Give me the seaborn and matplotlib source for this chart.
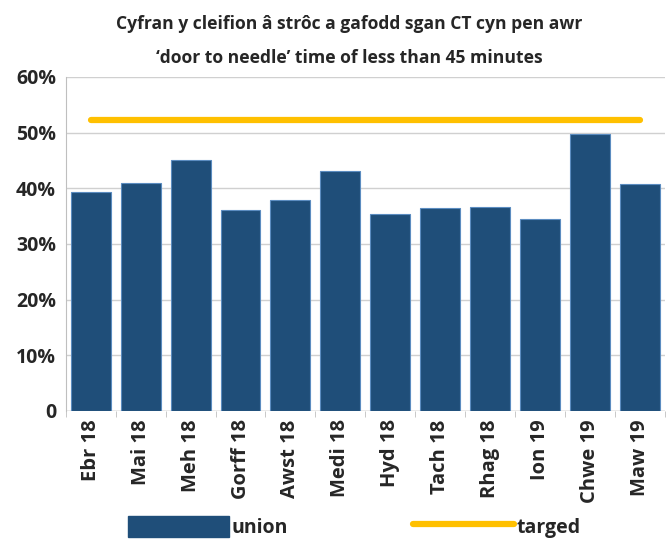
import matplotlib
matplotlib.use("Agg")
import matplotlib.pyplot as plt
import seaborn as sns
import pandas as pd
from matplotlib.patches import Patch
from matplotlib.lines import Line2D

months = ["Ebr 18", "Mai 18", "Meh 18", "Gorff 18", "Awst 18", "Medi 18",
          "Hyd 18", "Tach 18", "Rhag 18", "Ion 19", "Chwe 19", "Maw 19"]
union = [39.3, 41.0, 45.1, 36.1, 37.8, 43.1, 35.4, 36.5, 36.7, 34.5, 49.8, 40.8]
targed = [52.2] * len(months)

sns.set_style("white")
plt.rcParams["font.family"] = ["Open Sans", "DejaVu Sans"]
plt.rcParams["font.weight"] = "bold"

df = pd.DataFrame({"month": months, "union": union, "targed": targed})

fig = plt.figure(figsize=(6.71, 5.42), dpi=100)
ax = fig.add_axes([0.098, 0.242, 0.893, 0.616])

sns.barplot(data=df, x="month", y="union", color="#1F4E79", width=0.8,
            edgecolor="#5B8CC0", linewidth=0.8, saturation=1, ax=ax, zorder=2)
sns.lineplot(data=df, x="month", y="targed", color="#FFC000", linewidth=4.5,
             solid_capstyle="round", ax=ax, zorder=3)

ax.set_ylim(0, 60)
ax.set_xlim(-0.5, len(months) - 0.5)
ax.set_yticks(range(0, 61, 10))
ax.set_yticklabels(["0"] + [f"{v}%" for v in range(10, 61, 10)],
                   fontsize=14, fontweight="bold")
ax.set_xticks(range(len(months)))
ax.set_xticklabels(months, rotation=90, fontsize=14.5, fontweight="bold")
ax.set_xticks([i - 0.5 for i in range(len(months) + 1)], minor=True)
ax.set_xlabel("")
ax.set_ylabel("")
ax.grid(axis="y", color="#D0D0D0", linewidth=1, zorder=0)
ax.set_axisbelow(True)
for s in ["top", "right", "bottom"]:
    ax.spines[s].set_visible(False)
ax.spines["left"].set_color("#BFBFBF")
ax.tick_params(axis="y", length=4, color="#BFBFBF", pad=3)
ax.tick_params(axis="x", which="major", length=0, pad=6)
ax.tick_params(axis="x", which="minor", length=4, color="#BFBFBF", bottom=True)
ax.axhline(0, color="#BFBFBF", linewidth=1, zorder=1)

fig.suptitle("Cyfran y cleifion â strôc a gafodd sgan CT cyn pen awr\n"
             "‘door to needle’ time of less than 45 minutes",
             x=0.52, y=0.972, fontsize=12.6, fontweight="bold", linespacing=2.1)

handles = [Patch(facecolor="#1F4E79", edgecolor="#1F4E79"),
           Line2D([0], [0], color="#FFC000", linewidth=4.5)]
fig.legend(handles, ["union", "targed"], loc="lower center",
           bbox_to_anchor=(0.528, -0.025), ncol=2, frameon=False,
           handlelength=5.2, handleheight=1.3, columnspacing=6.4,
           handletextpad=0.15, prop={"size": 14, "weight": "bold"})

fig.savefig("out.png", dpi=100)
plt.close(fig)
